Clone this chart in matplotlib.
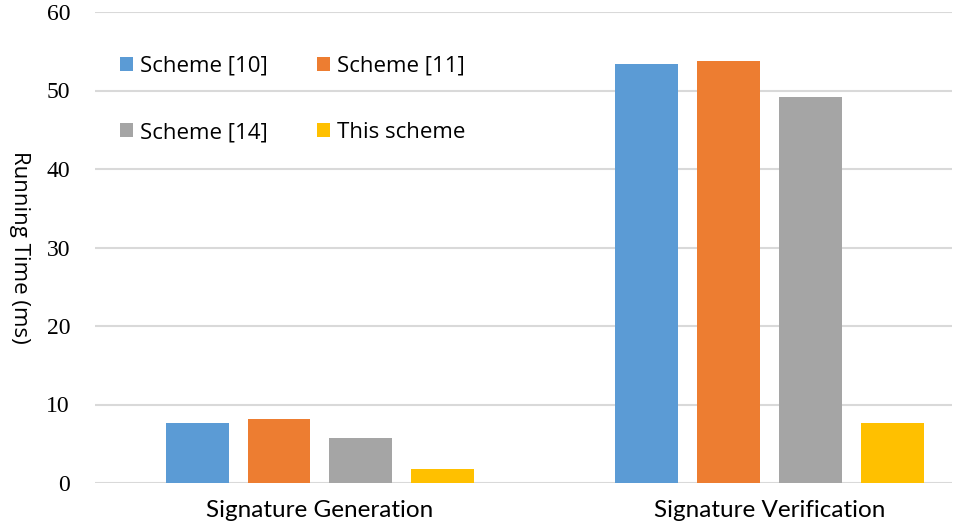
import numpy as np
import matplotlib.pyplot as plt

categories = ["Signature Generation", "Signature Verification"]
series = ["Scheme [10]", "Scheme [11]", "Scheme [14]", "This scheme"]
scheme10 = [7.6, 53.4]
scheme11 = [8.1, 53.8]
scheme14 = [5.7, 49.2]
this_scheme = [1.8, 7.6]
colors = ["#5b9bd5", "#ed7d31", "#a5a5a5", "#ffc000"]

fig = plt.figure(figsize=(9.55, 5.32), dpi=100)
ax = fig.add_axes([95/955, 49/532, 857/955, 471/532])

x = np.arange(len(categories))
step = 0.182
width = 0.14
bars = []
for i, (vals, name) in enumerate(zip([scheme10, scheme11, scheme14, this_scheme], series)):
    bars.append(ax.bar(x + (i - 1.5) * step, vals, width, color=colors[i], label=name, zorder=3))

ax.set_xlim(-0.5, 1.405)
ax.set_ylim(0, 60)
ax.set_yticks(range(0, 61, 10))
ax.grid(axis="y", color="#d9d9d9", linewidth=1.5, zorder=0)
for s in ax.spines.values():
    s.set_visible(False)
ax.tick_params(length=0)
ax.set_yticklabels([str(v) for v in range(0, 61, 10)], fontfamily="Liberation Serif", fontsize=17)
ax.tick_params(axis="y", pad=18)
ax.set_xticks(x)
ax.set_xticklabels(categories, family=["Lato", "DejaVu Sans"], fontsize=17.5)
ax.tick_params(axis="x", pad=12)

ax.set_ylabel("Running Time (ms)", rotation=270, fontsize=16, family="Open Sans")
ax.yaxis.set_label_coords(-0.1, 0.5)

# row-major legend: matplotlib fills columns first
order = [0, 2, 1, 3]
ax.legend([bars[i] for i in order], [series[i] for i in order], ncol=2, frameon=False,
          loc="upper left", bbox_to_anchor=(0.006, 0.95),
          handlelength=0.6, handleheight=0.6, handletextpad=0.3,
          columnspacing=2.2, labelspacing=2.05, prop={"family": "Open Sans", "size": 16})

fig.savefig("out.png", dpi=100)
